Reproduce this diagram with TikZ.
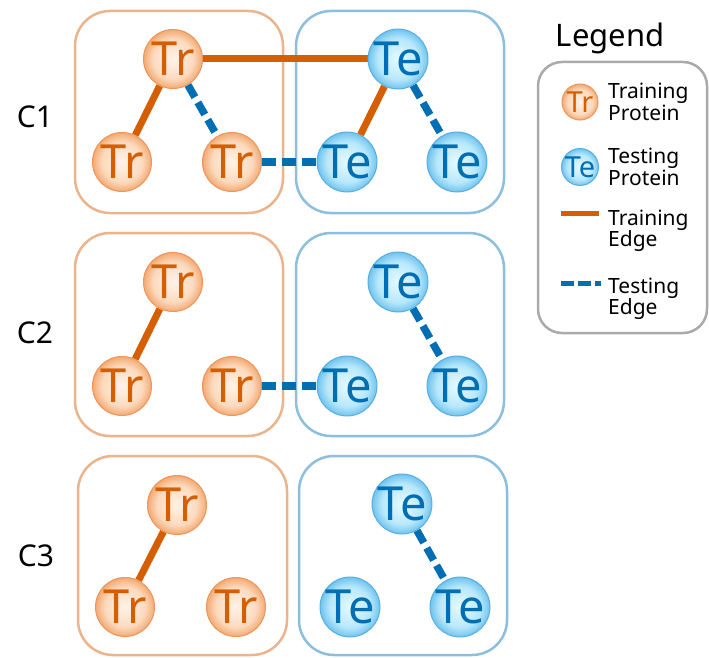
\documentclass[tikz,border=0pt]{standalone}
\usepackage{fontspec}
\setmainfont{Noto Sans}
\pgfdeclarelayer{boxes}
\pgfdeclarelayer{edges}
\pgfsetlayers{boxes,edges,main}
\definecolor{trtext}{RGB}{213,94,0}
\definecolor{tetext}{RGB}{0,110,178}
\definecolor{trin}{RGB}{255,243,232}
\definecolor{trmid}{RGB}{252,218,190}
\definecolor{trout}{RGB}{243,170,114}
\definecolor{trline}{RGB}{236,150,92}
\definecolor{tein}{RGB}{230,250,255}
\definecolor{temid}{RGB}{184,232,252}
\definecolor{teout}{RGB}{112,196,238}
\definecolor{teline}{RGB}{88,174,224}
\definecolor{trbox}{RGB}{235,180,140}
\definecolor{tebox}{RGB}{140,190,222}
\definecolor{legbox}{RGB}{170,170,170}
\pgfdeclareradialshading{trball}{\pgfpoint{0bp}{0bp}}{color(0bp)=(trin); color(17bp)=(trmid); color(25bp)=(trout); color(50bp)=(trout)}
\pgfdeclareradialshading{teball}{\pgfpoint{0bp}{0bp}}{color(0bp)=(tein); color(17bp)=(temid); color(25bp)=(teout); color(50bp)=(teout)}
\tikzset{
  trnode/.style={circle, minimum size=59pt, inner sep=0pt, shading=trball,
    draw=trline, line width=1pt,
    text=trtext, font=\fontsize{47}{47}\selectfont},
  tenode/.style={trnode, shading=teball, draw=teline, text=tetext},
  trsmall/.style={trnode, minimum size=36pt, font=\fontsize{29}{29}\selectfont},
  tesmall/.style={tenode, minimum size=36pt, font=\fontsize{29}{29}\selectfont},
  tredge/.style={draw=trtext, line width=7pt},
  teedge/.style={draw=tetext, line width=7.5pt, dash pattern=on 14pt off 6pt},
  trframe/.style={draw=trbox, line width=2.5pt, rounded corners=35pt},
  teframe/.style={draw=tebox, line width=2.5pt, rounded corners=35pt},
  rowlabel/.style={font=\fontsize{30}{30}\selectfont},
  legtext/.style={anchor=west, align=left, inner sep=0pt, font=\fontsize{21}{21.5}\selectfont},
}
\begin{document}
\begin{tikzpicture}[x=1pt,y=-1pt]
\useasboundingbox (0,0) rectangle (709,658);
\begin{pgfonlayer}{boxes}
\fill[white] (0,0) rectangle (709,658);
\draw[trframe] (75,11) rectangle (283,213);
\draw[teframe] (296,11) rectangle (504,213);
\draw[trframe] (75,233) rectangle (283,436);
\draw[teframe] (296,233) rectangle (504,436);
\draw[trframe] (78,456) rectangle (287,655);
\draw[teframe] (299,456) rectangle (507,655);
\draw[draw=legbox, line width=2.5pt, rounded corners=24pt] (538,62) rectangle (707,333);
\end{pgfonlayer}

% row labels
\node[rowlabel] (c1) at (35,117) {C1};
\node[rowlabel] (c2) at (35,333) {C2};
\node[rowlabel] (c3) at (36,556) {C3};

% row 1
\node[trnode] (r1a) at (173,59) {Tr};
\node[trnode] (r1b) at (122,162) {Tr};
\node[trnode] (r1c) at (232,162) {Tr};
\node[tenode] (e1a) at (398,59) {Te};
\node[tenode] (e1b) at (347,162) {Te};
\node[tenode] (e1c) at (457,162) {Te};
% row 2
\node[trnode] (r2a) at (173,282) {Tr};
\node[trnode] (r2b) at (122,386) {Tr};
\node[trnode] (r2c) at (232,386) {Tr};
\node[tenode] (e2a) at (398,282) {Te};
\node[tenode] (e2b) at (347,386) {Te};
\node[tenode] (e2c) at (457,386) {Te};
% row 3
\node[trnode] (r3a) at (177,505) {Tr};
\node[trnode] (r3b) at (125,607) {Tr};
\node[trnode] (r3c) at (236,607) {Tr};
\node[tenode] (e3a) at (402,504) {Te};
\node[tenode] (e3b) at (350,607) {Te};
\node[tenode] (e3c) at (460,607) {Te};

\begin{pgfonlayer}{edges}
\draw[tredge] (r1a) -- (r1b);
\draw[teedge] (r1a) -- (r1c);
\draw[tredge] (r1a) -- (e1a);
\draw[teedge] (r1c) -- (e1b);
\draw[tredge] (e1a) -- (e1b);
\draw[teedge] (e1a) -- (e1c);
\draw[tredge] (r2a) -- (r2b);
\draw[teedge] (r2c) -- (e2b);
\draw[teedge] (e2a) -- (e2c);
\draw[tredge] (r3a) -- (r3b);
\draw[teedge] (e3a) -- (e3c);
\end{pgfonlayer}

% legend
\node[font=\fontsize{31}{31}\selectfont] (legtitle) at (610,38) {Legend};
\node[trsmall] (ltr) at (580,102) {Tr};
\node[legtext] (ltrt) at (608,102) {Training\\Protein};
\node[tesmall] (lte) at (580,167) {Te};
\node[legtext] (ltet) at (608,167) {Testing\\Protein};
\coordinate (la1) at (561,213);
\coordinate (la2) at (599,213);
\draw[draw=trtext, line width=5pt] (la1) -- (la2);
\node[legtext] (ltre) at (608,231) {Training\\Edge};
\coordinate (lb1) at (561,283);
\coordinate (lb2) at (601,283);
\draw[draw=tetext, line width=5pt, dash pattern=on 13pt off 4pt] (lb1) -- (lb2);
\node[legtext] (ltee) at (608,299) {Testing\\Edge};
\end{tikzpicture}
\end{document}
